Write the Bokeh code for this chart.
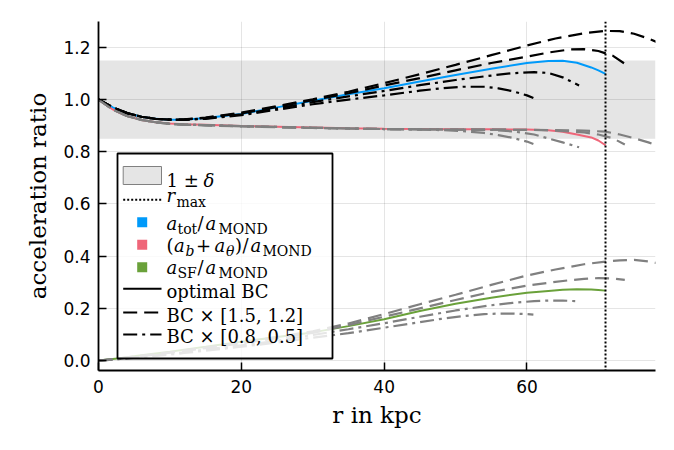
from bokeh.plotting import figure
from bokeh.models import (Range1d, BoxAnnotation, Span, Label, Arrow,
                          FixedTicker, PrintfTickFormatter)
from bokeh.embed import file_html
from bokeh.resources import INLINE

# ---------------- data ----------------
delta = 0.15
r_max = 71.0

# optimal boundary conditions
r_opt = [0, 1, 2, 3, 4, 6, 8, 10, 12, 15, 20, 25, 30, 35, 40, 45, 50, 55, 60, 63, 65, 67, 69, 70, 71]
tot_opt = [1.000, 0.984, 0.970, 0.958, 0.948, 0.934, 0.926, 0.923, 0.923, 0.929, 0.945, 0.970, 0.995,
           1.020, 1.043, 1.069, 1.094, 1.118, 1.140, 1.148, 1.149, 1.141, 1.123, 1.112, 1.098]
bar_opt = [1.000, 0.980, 0.962, 0.948, 0.937, 0.922, 0.913, 0.908, 0.905, 0.903, 0.899, 0.896, 0.893,
           0.890, 0.888, 0.887, 0.886, 0.886, 0.885, 0.882, 0.877, 0.866, 0.855, 0.843, 0.825]
sf_opt = [0.000, 0.003, 0.006, 0.009, 0.013, 0.020, 0.027, 0.034, 0.042, 0.053, 0.072, 0.090, 0.108,
          0.132, 0.158, 0.190, 0.218, 0.241, 0.260, 0.267, 0.271, 0.273, 0.272, 0.270, 0.268]

# BC x 1.5
r_15 = [0, 2, 4, 6, 8, 10, 12, 15, 20, 25, 30, 35, 40, 45, 50, 55, 60, 64, 68, 71, 73, 75, 77, 78.5]
tot_15 = [1.000, 0.970, 0.948, 0.934, 0.926, 0.923, 0.924, 0.931, 0.950, 0.975, 1.001, 1.030, 1.063,
          1.097, 1.133, 1.170, 1.207, 1.234, 1.254, 1.263, 1.262, 1.252, 1.234, 1.216]
bar_15 = [1.000, 0.962, 0.937, 0.922, 0.913, 0.907, 0.904, 0.901, 0.897, 0.894, 0.891, 0.889, 0.887,
          0.886, 0.885, 0.885, 0.884, 0.883, 0.881, 0.877, 0.866, 0.852, 0.836, 0.820]
sf_15 = [0.000, 0.006, 0.012, 0.019, 0.025, 0.032, 0.039, 0.050, 0.069, 0.090, 0.112, 0.142, 0.178,
         0.216, 0.252, 0.290, 0.326, 0.349, 0.369, 0.379, 0.384, 0.386, 0.380, 0.372]

# BC x 1.2
r_12 = [0, 2, 4, 6, 8, 10, 12, 15, 20, 25, 30, 35, 40, 45, 50, 55, 60, 63, 66, 68, 70, 72, 73.7]
tot_12 = [1.000, 0.970, 0.948, 0.934, 0.926, 0.923, 0.923, 0.930, 0.947, 0.972, 0.998, 1.024, 1.054,
          1.082, 1.112, 1.140, 1.164, 1.180, 1.192, 1.193, 1.186, 1.168, 1.137]
bar_12 = [1.000, 0.962, 0.937, 0.922, 0.913, 0.907, 0.904, 0.902, 0.898, 0.895, 0.892, 0.889, 0.887,
          0.886, 0.885, 0.885, 0.884, 0.882, 0.878, 0.874, 0.866, 0.852, 0.828]
sf_12 = [0.000, 0.005, 0.011, 0.017, 0.023, 0.030, 0.037, 0.048, 0.066, 0.086, 0.106, 0.136, 0.168,
         0.200, 0.232, 0.263, 0.287, 0.298, 0.308, 0.313, 0.316, 0.315, 0.309]

# BC x 0.8
r_08 = [0, 2, 4, 6, 8, 10, 12, 15, 20, 25, 30, 35, 40, 45, 50, 55, 58, 61, 63, 65, 67.3]
tot_08 = [1.000, 0.970, 0.948, 0.934, 0.926, 0.923, 0.923, 0.928, 0.943, 0.966, 0.990, 1.012, 1.033,
          1.055, 1.075, 1.092, 1.101, 1.105, 1.102, 1.085, 1.054]
bar_08 = [1.000, 0.962, 0.937, 0.922, 0.913, 0.907, 0.904, 0.902, 0.898, 0.895, 0.892, 0.889, 0.887,
          0.886, 0.885, 0.884, 0.878, 0.866, 0.851, 0.836, 0.817]
sf_08 = [0.000, 0.004, 0.009, 0.014, 0.020, 0.026, 0.032, 0.042, 0.058, 0.076, 0.098, 0.120, 0.143,
         0.168, 0.192, 0.212, 0.221, 0.228, 0.230, 0.230, 0.227]

# BC x 0.5
r_05 = [0, 2, 4, 6, 8, 10, 12, 15, 20, 25, 30, 35, 40, 45, 48, 51, 54, 56, 58, 60, 60.9]
tot_05 = [1.000, 0.970, 0.948, 0.934, 0.926, 0.923, 0.922, 0.926, 0.940, 0.961, 0.982, 1.000, 1.016,
          1.034, 1.043, 1.049, 1.049, 1.043, 1.032, 1.016, 1.006]
bar_05 = [1.000, 0.962, 0.937, 0.922, 0.913, 0.907, 0.904, 0.902, 0.898, 0.895, 0.892, 0.889, 0.887,
          0.885, 0.883, 0.879, 0.872, 0.864, 0.853, 0.839, 0.830]
sf_05 = [0.000, 0.004, 0.008, 0.013, 0.018, 0.023, 0.029, 0.038, 0.053, 0.069, 0.088, 0.105, 0.126,
         0.147, 0.160, 0.170, 0.178, 0.180, 0.180, 0.178, 0.176]

x_ticks = [0, 20, 40, 60]
y_ticks = [0.0, 0.2, 0.4, 0.6, 0.8, 1.0, 1.2]

BLUE = "#009AFA"
PINK = "#EF6679"
GREEN = "#6AA13A"
GRAY = "#808080"
SERIF = "DejaVu Serif"

# ---------------- figure ----------------
p = figure(frame_width=557, frame_height=349,
           min_border_left=98, min_border_right=8, min_border_top=21, min_border_bottom=70,
           x_range=Range1d(0, 78), y_range=Range1d(-0.038, 1.299),
           output_backend="svg", toolbar_location=None)
p.outline_line_color = None
p.background_fill_color = "white"

for ax in (p.xaxis[0], p.yaxis[0]):
    ax.axis_line_width = 1.8
    ax.axis_line_color = "black"
    ax.major_tick_in = 8
    ax.major_tick_out = 0
    ax.major_tick_line_width = 1.5
    ax.minor_tick_line_color = None
    ax.major_label_text_font = "DejaVu Sans"
    ax.major_label_text_font_size = "17px"
    ax.major_label_text_color = "black"
    ax.axis_label_text_font = SERIF
    ax.axis_label_text_font_size = "23px"
    ax.axis_label_text_font_style = "normal"
    ax.axis_label_text_color = "black"

p.xaxis.ticker = FixedTicker(ticks=x_ticks)
p.yaxis.ticker = FixedTicker(ticks=y_ticks)
p.xaxis.formatter = PrintfTickFormatter(format="%d")
p.yaxis.formatter = PrintfTickFormatter(format="%.1f")
p.xaxis.major_label_standoff = 9
p.yaxis.major_label_standoff = 8
p.xaxis.axis_label = "r in kpc"
p.yaxis.axis_label = "acceleration ratio"
p.xaxis.axis_label_standoff = 6
p.yaxis.axis_label_standoff = 9

p.grid.grid_line_color = "black"
p.grid.grid_line_alpha = 0.1
p.grid.grid_line_width = 1

# 1 +/- delta band (under the grid)
band = BoxAnnotation(bottom=1 - delta, top=1 + delta, fill_color="#E5E5E5", fill_alpha=1.0,
                     line_color=None, level="underlay")
p.center = [band] + list(p.center)

# ---------------- curves ----------------
LW_OPT = 2.0
LW_VAR = 2.2
p.line(r_opt, tot_opt, color=BLUE, line_width=LW_OPT)
p.line(r_opt, bar_opt, color=PINK, line_width=LW_OPT)
p.line(r_opt, sf_opt, color=GREEN, line_width=LW_OPT)

variants = [
    (r_15, tot_15, bar_15, sf_15, "14 7"),
    (r_12, tot_12, bar_12, sf_12, "14 7"),
    (r_08, tot_08, bar_08, sf_08, "14 5 3 5"),
    (r_05, tot_05, bar_05, sf_05, "14 5 3 5"),
]
for r, tot, bar, sf, dash in variants:
    p.line(r, tot, color="black", line_width=LW_VAR, line_dash=dash)
    p.line(r, bar, color=GRAY, line_width=LW_VAR, line_dash=dash)
    p.line(r, sf, color=GRAY, line_width=LW_VAR, line_dash=dash)

p.add_layout(Span(location=r_max, dimension="height", line_color="black",
                  line_dash="2 2", line_width=2))

# ---------------- legend (hand built, screen units relative to frame) ----------------
FL, FB = 98, 370  # page position of frame left / bottom in the reference


def sx(px):
    return px - FL


def sy(py):
    return FB - py


def sbox(l, r, t, b, **kw):
    return BoxAnnotation(left=sx(l), right=sx(r), top=sy(t), bottom=sy(b),
                         left_units="screen", right_units="screen",
                         top_units="screen", bottom_units="screen", **kw)


p.add_layout(sbox(117, 332, 153, 358, fill_color="white", fill_alpha=0.8,
                  line_color="black", line_alpha=1.0, line_width=1.8))
p.add_layout(sbox(122.7, 161, 166, 184, fill_color="#E5E5E5", fill_alpha=1.0,
                  line_color=GRAY, line_alpha=1.0, line_width=1))

for col, yc in ((BLUE, 221.7), (PINK, 244.3), (GREEN, 266.7)):
    p.add_layout(sbox(136.7, 146.7, yc - 5, yc + 5, fill_color=col, fill_alpha=1.0,
                      line_color=None))

for yc, dash in ((199.3, "2 2"), (288.3, "solid"), (312.0, "14 7"), (334.0, "14 5 3 5")):
    p.add_layout(Arrow(x_start=sx(122.7), y_start=sy(yc), x_end=sx(161), y_end=sy(yc),
                       start_units="screen", end_units="screen", end=None, start=None,
                       line_color="black", line_width=2, line_dash=dash))

MAIN, SUB = "18px", "14px"
DY = -3.0
pieces = [
    # x, baseline, text, size, style
    (166.0, 183.0, "1 ± ", MAIN, "normal"),
    (203.0, 183.0, "δ", MAIN, "italic"),
    (166.0, 197.5, "r", MAIN, "italic"),
    (176.0, 204.0, "max", SUB, "normal"),
    (166.0, 226.0, "a", MAIN, "italic"),
    (177.0, 231.5, "tot", SUB, "normal"),
    (197.0, 226.0, "/", MAIN, "normal"),
    (205.0, 226.0, "a", MAIN, "italic"),
    (218.0, 231.5, "MOND", SUB, "normal"),
    (166.0, 247.5, "(", MAIN, "normal"),
    (173.5, 247.5, "a", MAIN, "italic"),
    (185.0, 253.0, "b", SUB, "italic"),
    (195.5, 247.5, "+", MAIN, "normal"),
    (214.0, 247.5, "a", MAIN, "italic"),
    (225.5, 253.0, "θ", SUB, "italic"),
    (234.5, 247.5, ")", MAIN, "normal"),
    (242.0, 247.5, "/", MAIN, "normal"),
    (250.0, 247.5, "a", MAIN, "italic"),
    (262.0, 253.5, "MOND", SUB, "normal"),
    (166.0, 270.0, "a", MAIN, "italic"),
    (177.0, 275.5, "SF", SUB, "normal"),
    (197.0, 270.0, "/", MAIN, "normal"),
    (205.0, 270.0, "a", MAIN, "italic"),
    (218.0, 275.5, "MOND", SUB, "normal"),
    (166.0, 294.0, "optimal BC", MAIN, "normal"),
    (166.0, 318.0, "BC × [1.5, 1.2]", MAIN, "normal"),
    (166.0, 339.0, "BC × [0.8, 0.5]", MAIN, "normal"),
]
for x, yb, txt, size, style in pieces:
    p.add_layout(Label(x=sx(x), y=sy(yb + DY), x_units="screen", y_units="screen", text=txt,
                       text_font=SERIF, text_font_size=size, text_font_style=style,
                       text_color="black", text_baseline="alphabetic", text_align="left"))

open("out.html", "w").write(file_html(p, INLINE))
